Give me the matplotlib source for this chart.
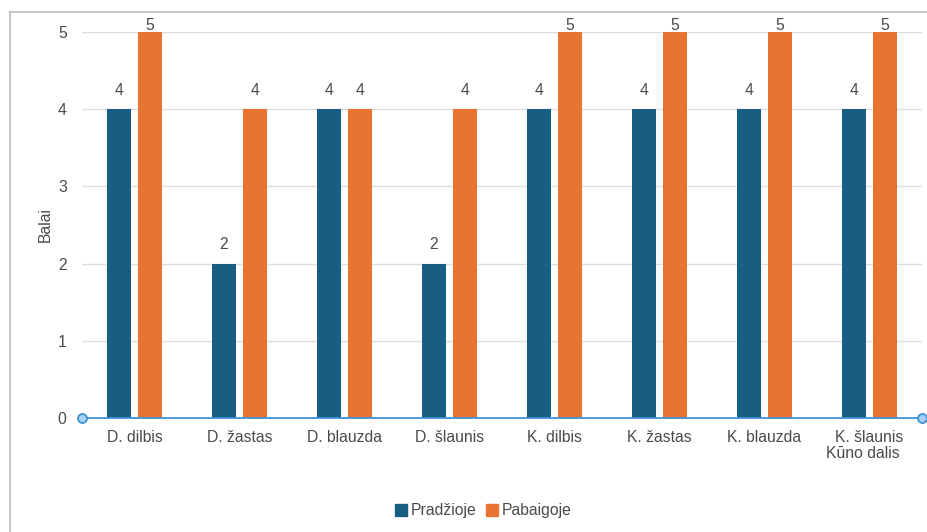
import numpy as np
import matplotlib.pyplot as plt
from matplotlib.lines import Line2D

# Duomenys
categories = ["D. dilbis", "D. žastas", "D. blauzda", "D. šlaunis",
              "K. dilbis", "K. žastas", "K. blauzda", "K. šlaunis"]
pradzioje = [4, 2, 4, 2, 4, 4, 4, 4]
pabaigoje = [5, 4, 4, 4, 5, 5, 5, 5]
y_ticks = [0, 1, 2, 3, 4, 5]

plt.rcParams["font.family"] = ["Liberation Sans", "DejaVu Sans"]
blue = "#175E82"
orange = "#E97431"
txt = "#4a4a4a"
fs = 11.3

fig = plt.figure(figsize=(9.28, 5.32), dpi=100)
ax = fig.add_axes([82 / 928, 114 / 532, 840 / 928, 386 / 532])

x = np.arange(len(categories))
w = 0.229
off = 0.148
ymax = 5
for xs, vals, col in ((x - off, pradzioje, blue), (x + off, pabaigoje, orange)):
    ax.bar(xs, vals, w, color=col, zorder=3)
    for xi, v in zip(xs, vals):
        # prie viršaus etiketė prispaudžiama
        dy = 7 if v >= ymax else 19
        ax.annotate(str(v), (xi, v), xytext=(0, dy), textcoords="offset pixels",
                    ha="center", va="center", fontsize=fs, color=txt)

ax.set_xlim(-0.5, len(categories) - 0.5)
ax.set_ylim(0, ymax)
ax.set_yticks(y_ticks)
ax.set_xticks(x)
ax.set_xticklabels(categories)
ax.tick_params(axis="both", length=0, labelsize=fs, labelcolor=txt)
ax.tick_params(axis="y", pad=11)
ax.tick_params(axis="x", pad=9)
ax.grid(axis="y", color="#dddddd", linewidth=1, zorder=0)
for s in ax.spines.values():
    s.set_visible(False)

# Ašis su taškais galuose
ax.axhline(0, color="#3f93d8", linewidth=1.3, zorder=4, clip_on=False)
ax.plot([-0.5, len(categories) - 0.5], [0, 0], "o", ms=6.5,
        mfc="#a9cff2", mec="#3f93d8", mew=1.3, clip_on=False, zorder=5)

ax.set_ylabel("Balai", fontsize=fs, color=txt, labelpad=4)
ax.text(6.94, -0.455, "Kūno dalis", ha="center", va="center",
        fontsize=fs, color=txt)

handles = [Line2D([0], [0], marker="s", linestyle="none", markersize=8, color=c)
           for c in (blue, orange)]
fig.legend(handles, ["Pradžioje", "Pabaigoje"], loc="center",
           bbox_to_anchor=(483 / 928, 1 - 511 / 532), ncol=2, frameon=False,
           fontsize=fs, labelcolor=txt, handletextpad=0.2, columnspacing=0.6,
           handlelength=0.8)

# Rėmelis
fig.add_artist(Line2D([10 / 928, 10 / 928], [0, 1 - 12 / 532], color="#bbbbbb", lw=1.2))
fig.add_artist(Line2D([10 / 928, 1], [1 - 12 / 532, 1 - 12 / 532], color="#bbbbbb", lw=1.2))

fig.savefig("out.png", dpi=100)
